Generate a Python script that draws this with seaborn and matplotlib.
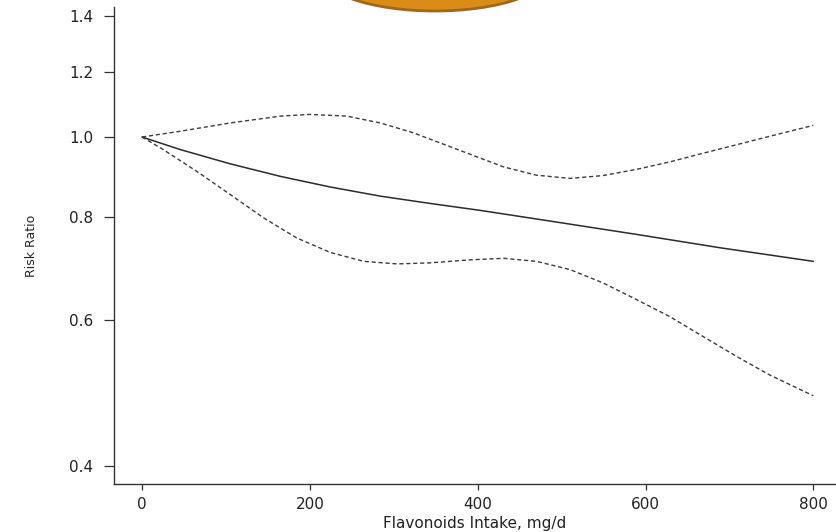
import matplotlib
matplotlib.use("Agg")
import matplotlib.pyplot as plt
from matplotlib.patches import Ellipse
from matplotlib.ticker import FixedLocator, FormatStrFormatter, NullLocator
import seaborn as sns

# Dose-response of flavonoid intake on risk ratio (point estimate and 95% CI)
intake_upper = [0, 45, 105, 165, 200, 244, 284, 323, 363, 403, 431, 470, 510,
                549, 590, 629, 669, 709, 748, 800]
rr_upper = [1.000, 1.016, 1.040, 1.060, 1.065, 1.060, 1.040, 1.012, 0.977, 0.943,
            0.920, 0.899, 0.891, 0.898, 0.914, 0.933, 0.956, 0.979, 1.002, 1.033]

intake_est = [0, 45, 105, 165, 224, 284, 343, 403, 490, 590, 690, 800]
rr_est = [1.000, 0.966, 0.928, 0.896, 0.870, 0.848, 0.831, 0.815, 0.790, 0.762,
          0.734, 0.707]

intake_lower = [0, 25, 65, 105, 145, 184, 224, 264, 304, 343, 391, 431, 470, 510,
                549, 590, 629, 669, 709, 748, 800]
rr_lower = [1.000, 0.966, 0.909, 0.852, 0.798, 0.755, 0.725, 0.707, 0.702, 0.704,
            0.710, 0.713, 0.707, 0.691, 0.666, 0.635, 0.606, 0.573, 0.542, 0.515,
            0.486]

x_ticks = [0, 200, 400, 600, 800]
y_ticks = [0.4, 0.6, 0.8, 1.0, 1.2, 1.4]

sns.set_theme(style="white")
plt.rcParams["font.family"] = ["DejaVu Sans"]

fig = plt.figure(figsize=(8.36, 5.32), dpi=100)
ax = fig.add_axes([114 / 836, 48 / 532, 1 - 114 / 836, (484 - 7) / 532])

line_col = "#2b2b2b"
dash_col = "#3c3c3c"

sns.lineplot(x=intake_est, y=rr_est, ax=ax, color=line_col, linewidth=1.1,
             sort=False, estimator=None)
sns.lineplot(x=intake_upper, y=rr_upper, ax=ax, color=dash_col, linewidth=1.0,
             sort=False, estimator=None, linestyle=(0, (3, 2)))
sns.lineplot(x=intake_lower, y=rr_lower, ax=ax, color=dash_col, linewidth=1.0,
             sort=False, estimator=None, linestyle=(0, (3, 2)))

ax.set_yscale("log")
ax.set_xlim(-33.4, 827)
ax.set_ylim(0.380, 1.437)
ax.yaxis.set_major_locator(FixedLocator(y_ticks))
ax.yaxis.set_major_formatter(FormatStrFormatter("%.1f"))
ax.yaxis.set_minor_locator(NullLocator())
ax.set_xticks(x_ticks)
ax.set_xticklabels([str(t) for t in x_ticks])

for side in ("top", "right"):
    ax.spines[side].set_visible(False)
for side in ("left", "bottom"):
    ax.spines[side].set_color("#333333")
    ax.spines[side].set_linewidth(1.0)

ax.tick_params(axis="y", which="major", direction="out", length=7, width=0.9,
               color="#333333", pad=8, labelsize=11, labelcolor="#222222", left=True)
ax.tick_params(axis="x", which="major", direction="out", length=4.5, width=0.9,
               color="#333333", pad=5, labelsize=11, labelcolor="#222222", bottom=True)

ax.set_xlabel("Flavonoids Intake, mg/d", fontsize=11, color="#222222", labelpad=3)
ax.set_ylabel("Risk Ratio", fontsize=9, color="#222222", labelpad=22)

# orange emblem partly visible at the top edge
fig.add_artist(Ellipse((435, 561), 232, 80, transform=None,
                       facecolor="#d98c16", edgecolor="#a8650c", linewidth=2.0, zorder=5))

fig.savefig("out.png", dpi=100)
